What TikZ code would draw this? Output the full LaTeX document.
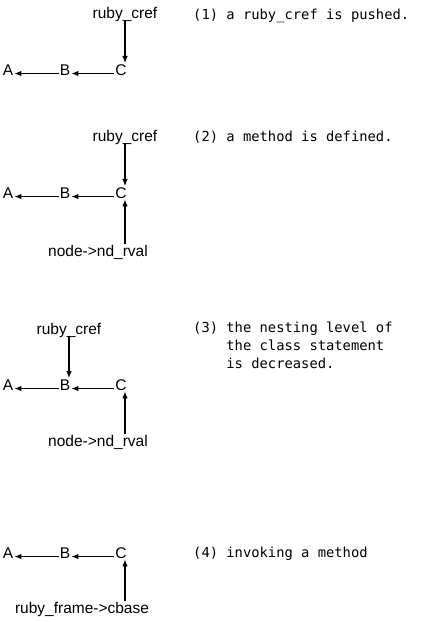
\documentclass[tikz,border=0pt]{standalone}
\usepackage{fontspec}
\setmainfont{Liberation Sans}
\setmonofont{DejaVu Sans Mono}
\usetikzlibrary{arrows.meta}

\begin{document}
\begin{tikzpicture}[x=1pt, y=-1pt,
		letter/.style={anchor=base, inner sep=1pt, font=\fontsize{15.5}{18}\selectfont},
		note/.style={anchor=base west, inner sep=0pt, align=left, font=\fontsize{13.8}{18}\selectfont\ttfamily},
		ptr/.style={-{Latex[length=7pt,width=5.5pt]}, line width=1.1pt}]
	\useasboundingbox (0,0) rectangle (442,622);

	\node[letter] (cref1) at (125,18) {ruby\_cref};
	\node[letter] (a1) at (8,75) {A};
	\node[letter] (b1) at (65,75) {B};
	\node[letter] (c1) at (121,75) {C};
	\node[note] (note1) at (193,19) {(1) a ruby\_cref is pushed.};
	\draw[ptr] ([yshift=-2pt]cref1.base) -- ([xshift=4pt]c1.north);
	\draw[ptr] ([yshift=1.5pt]c1.base west) -- ([yshift=1.5pt]b1.base east);
	\draw[ptr] ([yshift=1.5pt]b1.base west) -- ([yshift=1.5pt]a1.base east);

	\node[letter] (cref2) at (125,141) {ruby\_cref};
	\node[letter] (a2) at (8,198) {A};
	\node[letter] (b2) at (65,198) {B};
	\node[letter] (c2) at (121,198) {C};
	\node[letter] (rval2) at (98,256) {node->nd\_rval};
	\node[note] (note2) at (193,141) {(2) a method is defined.};
	\draw[ptr] ([yshift=-2pt]cref2.base) -- ([xshift=4pt]c2.north);
	\draw[ptr] ([xshift=4pt]c2.south |- rval2.north) -- ([xshift=4pt]c2.south);
	\draw[ptr] ([yshift=1.5pt]c2.base west) -- ([yshift=1.5pt]b2.base east);
	\draw[ptr] ([yshift=1.5pt]b2.base west) -- ([yshift=1.5pt]a2.base east);

	\node[letter] (cref3) at (69,334) {ruby\_cref};
	\node[letter] (a3) at (8,390) {A};
	\node[letter] (b3) at (65,390) {B};
	\node[letter] (c3) at (121,390) {C};
	\node[letter] (rval3) at (98,446) {node->nd\_rval};
	\node[note] (note3) at (193,368) {(3) the nesting level of\\\hphantom{(3) }the class statement\\\hphantom{(3) }is decreased.};
	\draw[ptr] ([yshift=-2pt]cref3.base) -- ([xshift=4pt]b3.north);
	\draw[ptr] ([xshift=4pt]c3.south |- rval3.north) -- ([xshift=4pt]c3.south);
	\draw[ptr] ([yshift=1.5pt]c3.base west) -- ([yshift=1.5pt]b3.base east);
	\draw[ptr] ([yshift=1.5pt]b3.base west) -- ([yshift=1.5pt]a3.base east);

	\node[letter] (a4) at (8,558) {A};
	\node[letter] (b4) at (65,558) {B};
	\node[letter] (c4) at (121,558) {C};
	\node[letter] (frame4) at (82,613) {ruby\_frame->cbase};
	\node[note] (note4) at (193,557) {(4) invoking a method};
	\draw[ptr] ([xshift=4pt]c4.south |- frame4.north) -- ([xshift=4pt]c4.south);
	\draw[ptr] ([yshift=1.5pt]c4.base west) -- ([yshift=1.5pt]b4.base east);
	\draw[ptr] ([yshift=1.5pt]b4.base west) -- ([yshift=1.5pt]a4.base east);
\end{tikzpicture}
\end{document}
